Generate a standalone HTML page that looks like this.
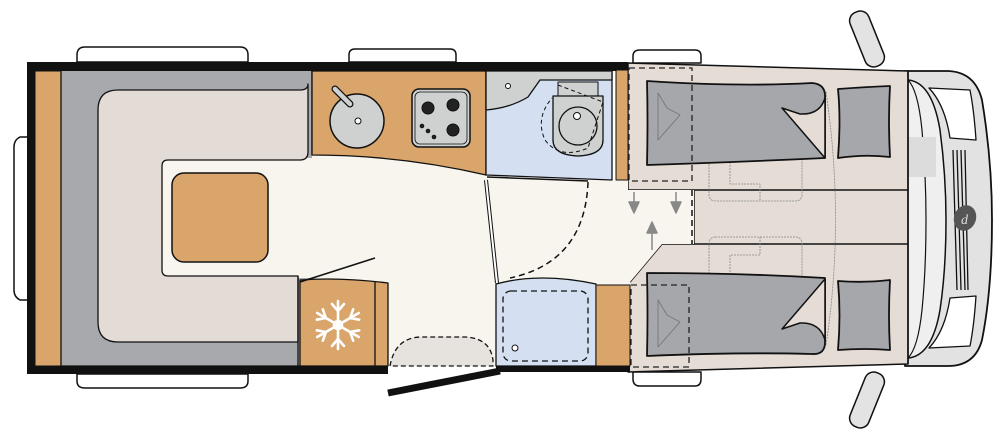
<!DOCTYPE html>
<html><head><meta charset="utf-8"><style>html,body{margin:0;padding:0;background:#fff}svg{display:block}</style></head>
<body>
<svg width="1000" height="439" viewBox="0 0 1000 439" xmlns="http://www.w3.org/2000/svg" stroke-linejoin="round">
<g fill="#fff" stroke="#111" stroke-width="1.5">
<path d="M77,62 V55 Q77,47 85,47 H240 Q248,47 248,55 V62 Z"/>
<path d="M349,62 V55 Q349,49 355,49 H450 Q456,49 456,55 V62 Z"/>
<path d="M633,63 V56 Q633,50 640,50 H695 Q701,50 701,56 V63 Z"/>
<path d="M77,374 V381 Q77,388 85,388 H240 Q248,388 248,381 V374 Z"/>
<path d="M633,372 V379 Q633,386 640,386 H695 Q701,386 701,379 V372 Z"/>
<path d="M28,137 H20 Q14,140 14,147 V290 Q14,297 20,300 H28 Z"/>
</g>
<g fill="#e3e3e3" stroke="#111" stroke-width="1.5">
<rect x="857" y="10" width="20" height="58" rx="9" transform="rotate(-22 867 39)"/>
<rect x="857" y="371" width="20" height="58" rx="9" transform="rotate(22 867 400)"/>
</g>
<path d="M905,71 H948 Q975,72 982,100 Q992,160 992,220 Q992,290 982,340 Q975,366 948,366 H905 Z" fill="#e2e2e2" stroke="#111" stroke-width="1.8"/>
<path d="M908,80 Q932,82 940,130 Q946,175 946,220 Q946,270 940,310 Q932,356 908,358" fill="#efefef" stroke="#111" stroke-width="1.5"/>
<path d="M908,80 Q918,90 922,130 Q926,175 926,220 Q926,270 922,310 Q918,348 908,358" fill="#f0f0f0" stroke="#111" stroke-width="1.2"/>
<rect x="908" y="137" width="28" height="40" fill="#dcdcdc"/>
<path d="M929,88 L970,90 Q974,110 976,140 L950,138 Q945,105 929,88 Z" fill="#fff" stroke="#111" stroke-width="1.3"/>
<path d="M929,348 L970,346 Q974,326 976,296 L950,298 Q945,331 929,348 Z" fill="#fff" stroke="#111" stroke-width="1.3"/>
<g stroke="#111" stroke-width="1.3"><line x1="953" y1="150" x2="957" y2="290"/><line x1="957" y1="150" x2="961" y2="290"/><line x1="961" y1="150" x2="965" y2="290"/><line x1="965" y1="150" x2="968" y2="290"/></g>
<ellipse cx="965" cy="218" rx="11" ry="13" fill="#555" transform="rotate(20 965 218)"/>
<text x="961" y="224" font-family="Liberation Serif, serif" font-size="14" font-style="italic" fill="#ddd">d</text>
<path d="M628,63 L908,71 V364 L628,372 Z" fill="#e4dcd5" stroke="#111" stroke-width="1.5"/>
<path d="M628,190 H908 M694,190 V244 H908 M908,71 V364" fill="none" stroke="#111" stroke-width="1.5"/>
<path d="M630,282 L662,244 H694" fill="none" stroke="#111" stroke-width="1.5"/>
<g fill="none" stroke="#888" stroke-width="0.8" stroke-dasharray="2,1">
<rect x="709" y="123" width="93" height="78" rx="6"/>
<rect x="709" y="237" width="93" height="78" rx="6"/>
<path d="M760,123 V142 H730 V184 H760 V201 M760,237 V255 H730 V298 H760 V315"/>
<path d="M826,92 Q845,220 826,345"/>
</g>
<g fill="#a6a7ab" stroke="#111" stroke-width="1.8">
<path d="M647,81 Q740,87 812,83 Q826,84 825,98 V158 Q740,162 647,165 Q648,120 647,81 Z"/>
<path d="M838,89 Q865,87 890,86 Q888,120 890,157 Q865,154 838,158 Q841,120 838,89 Z"/>
<path d="M647,273 Q740,273 825,278 V340 Q826,355 812,354 Q740,352 647,356 Q648,314 647,273 Z"/>
<path d="M838,281 Q865,283 890,280 Q888,315 890,350 Q865,348 838,350 Q841,315 838,281 Z"/>
</g>
<path d="M782,108 L825,158 V98 Q820,115 800,114 Z" fill="#e4dcd5" stroke="#111" stroke-width="1.5"/>
<path d="M782,329 L825,279 V340 Q820,322 800,323 Z" fill="#e4dcd5" stroke="#111" stroke-width="1.5"/>
<g fill="none" stroke="#777" stroke-width="0.9"><path d="M658,93 L667,108 L680,115 L658,140 Z"/><path d="M658,300 L667,315 L680,322 L658,347 Z"/></g>
<g fill="none" stroke="#222" stroke-width="1.3" stroke-dasharray="6,4">
<rect x="629" y="68" width="63" height="113"/>
<rect x="631" y="285" width="58" height="82"/>
</g>
<path d="M300,155 H312 Q400,155 486,175 V178 L612,180 H628 V190 L694,190 V244 H662 L630,282 V366 H300 Z" fill="#f8f4ee"/>
<rect x="27" y="62" width="601" height="9" fill="#111"/>
<rect x="27" y="62" width="8" height="312" fill="#111"/>
<rect x="27" y="366" width="361" height="8" fill="#111"/>
<rect x="496" y="366" width="134" height="6" fill="#111"/>
<rect x="35" y="71" width="26" height="295" fill="#d9a56b" stroke="#111" stroke-width="1"/>
<rect x="61" y="71" width="251" height="295" fill="#a8a9ad"/>
<rect x="162" y="158" width="150" height="120" fill="#f8f4ee"/>
<path d="M312,71 V155 M61,71 V366 H300" fill="none" stroke="#111" stroke-width="1.3"/>
<path d="M118,90 H300 Q308,90 308,84 V152 Q308,160 300,160 H168 Q162,160 162,166 V270 Q162,276 168,276 H298 V342 Q296,342 286,342 H118 Q98,342 98,322 V110 Q98,90 118,90 Z" fill="#e3dbd6" stroke="#111" stroke-width="1.3"/>
<path d="M298,276 V366" stroke="#111" stroke-width="1.3"/>
<rect x="172" y="173" width="96" height="89" rx="12" fill="#d9a56b" stroke="#111" stroke-width="1.5"/>
<path d="M312,71 H486 V175 Q400,155 312,155 Z" fill="#d9a56b" stroke="#111" stroke-width="1.3"/>
<circle cx="357" cy="121" r="27" fill="#cfd0d0" stroke="#111" stroke-width="1.5"/>
<line x1="335" y1="89" x2="350" y2="104" stroke="#111" stroke-width="7" stroke-linecap="round"/>
<line x1="335" y1="89" x2="350" y2="104" stroke="#cfd0d0" stroke-width="4.5" stroke-linecap="round"/>
<circle cx="358" cy="121" r="3" fill="#fff" stroke="#111"/>
<rect x="412" y="89" width="58" height="58" rx="7" fill="#cfd0d0" stroke="#111" stroke-width="1.5"/>
<rect x="415" y="92" width="52" height="52" rx="5" fill="none" stroke="#111" stroke-width="0.8"/>
<g fill="#222" stroke="#111"><circle cx="428" cy="108" r="6"/><circle cx="453" cy="105" r="6"/><circle cx="453" cy="130" r="6"/><circle cx="422" cy="126" r="1.8"/><circle cx="428" cy="131" r="1.8"/><circle cx="434" cy="137" r="1.8"/></g>
<path d="M486,71 H612 V180 L486,175 Z" fill="#d4e0f2" stroke="#111" stroke-width="1.3"/>
<path d="M486,71 H612 V80 H540 L528,97 Q510,108 486,110 Z" fill="#cfd0d0" stroke="#111" stroke-width="1.3"/>
<circle cx="508" cy="86" r="2.5" fill="#fff" stroke="#111"/>
<rect x="558" y="82" width="40" height="15" fill="#cfd0d0" stroke="#111" stroke-width="1"/>
<path d="M553,96 H603 V140 Q603,155 578,156 Q553,155 553,140 Z" fill="#cfd0d0" stroke="#111" stroke-width="1.3"/>
<circle cx="578" cy="126" r="19" fill="#cfd0d0" stroke="#111" stroke-width="1.3"/>
<circle cx="577" cy="116" r="3.5" fill="#fff" stroke="#111"/>
<path d="M558,85 L603,102 L588,148 Q560,160 545,140 Q535,118 552,98" fill="none" stroke="#111" stroke-dasharray="4,3"/>
<rect x="616" y="70" width="12" height="110" fill="#d9a56b" stroke="#111" stroke-width="1"/>
<path d="M486,180 L497,283" stroke="#111" stroke-width="4"/><path d="M486,180 L497,283" stroke="#fff" stroke-width="2"/>
<path d="M487,177 L588,181" stroke="#111" stroke-width="1.5"/>
<path d="M588,182 Q585,262 510,278" fill="none" stroke="#111" stroke-width="1.5" stroke-dasharray="6,4"/>
<path d="M496,366 V284 Q540,272 596,284 V366 Z" fill="#d4e0f2" stroke="#111" stroke-width="1.3"/>
<rect x="503" y="291" width="85" height="70" rx="8" fill="none" stroke="#111" stroke-width="1.3" stroke-dasharray="6,4"/>
<circle cx="515" cy="348" r="3" fill="#fff" stroke="#111"/>
<rect x="596" y="285" width="34" height="81" fill="#d9a56b" stroke="#111" stroke-width="1"/>
<path d="M692,190 V244" stroke="#111" stroke-width="1.5" stroke-dasharray="6,4"/>
<path d="M300,280 Q340,277 388,283 V366 H300 Z" fill="#d9a56b" stroke="#111" stroke-width="1.3"/>
<line x1="375" y1="281" x2="375" y2="366" stroke="#111" stroke-width="1.3"/>
<line x1="300" y1="282" x2="375" y2="258" stroke="#111" stroke-width="1.5"/>
<g stroke="#fff" stroke-width="2.6" stroke-linecap="round" fill="none" transform="translate(338,325)">
<g><line x1="0" y1="-24" x2="0" y2="24"/><path d="M-6,-21 L0,-14 L6,-21 M-6,21 L0,14 L6,21"/></g>
<g transform="rotate(60)"><line x1="0" y1="-24" x2="0" y2="24"/><path d="M-6,-21 L0,-14 L6,-21 M-6,21 L0,14 L6,21"/></g>
<g transform="rotate(-60)"><line x1="0" y1="-24" x2="0" y2="24"/><path d="M-6,-21 L0,-14 L6,-21 M-6,21 L0,14 L6,21"/></g>
<circle r="4"/></g>
<path d="M390,366 Q395,338 420,337 H465 Q490,338 493,360 V366 Z" fill="#e6e3df" stroke="#111" stroke-width="1.3" stroke-dasharray="5,3"/>
<line x1="388" y1="393" x2="500" y2="371" stroke="#111" stroke-width="7"/>
<g fill="#888" stroke="#888" stroke-width="1.5">
<line x1="634" y1="192" x2="634" y2="204"/><path d="M629,202 H639 L634,213 Z"/>
<line x1="676" y1="192" x2="676" y2="204"/><path d="M671,202 H681 L676,213 Z"/>
<line x1="652" y1="250" x2="652" y2="232"/><path d="M647,233 H657 L652,222 Z"/>
</g>
</svg>
</body></html>
